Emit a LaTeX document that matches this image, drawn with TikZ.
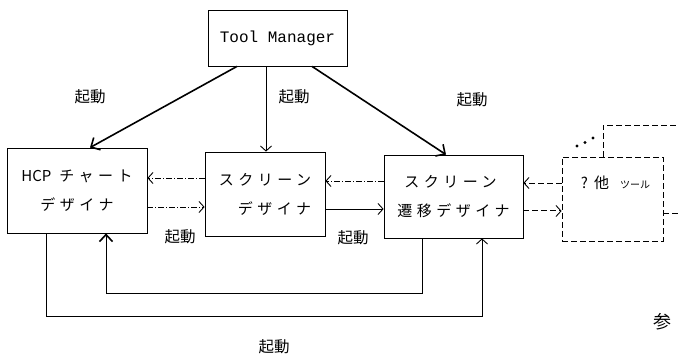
\documentclass[tikz,border=0pt]{standalone}
\usepackage{fontspec}
\newfontfamily\jp{Noto Sans CJK JP}
\newfontfamily\jpw[LetterSpace=30]{Noto Sans CJK JP}
\newfontfamily\monof{Liberation Mono}
\usetikzlibrary{arrows.meta,calc}
\begin{document}
\begin{tikzpicture}[x=1pt,y=-1pt,
  box/.style={draw,line width=0.8pt,inner sep=0pt,font=\jpw\fontsize{15}{29}\selectfont,align=center},
  lbl/.style={font=\jp\fontsize{15.5}{15.5}\selectfont},
  bigtip/.style={-{Straight Barb[length=7pt,width=14pt,line width=1.6pt]}, line width=1.6pt},
  thintip/.style={-{Straight Barb[length=5pt,width=11pt,line width=0.9pt]}, line width=0.8pt},
  dd/.style={dash pattern=on 6pt off 2pt on 1pt off 2pt},
  dsh/.style={dash pattern=on 6pt off 3pt},
]
\useasboundingbox (0,0) rectangle (678,358);

% nodes
\node[box,font=\monof\fontsize{16}{16}\selectfont,minimum width=139pt,minimum height=56pt] (tm) at (277.5,38) {Tool Manager};
\node[box,minimum width=140pt,minimum height=85pt] (hcp) at (77,190.5) {{\jp HCP}\hspace{8pt}チャート\\デザイナ};
\node[box,minimum width=120pt,minimum height=84pt,align=right] (sd) at (265,194) {スクリーン\\デザイナ};
\node[box,minimum width=139pt,minimum height=83pt] (st) at (453.5,196.5) {スクリーン\hspace*{6pt}\\遷移デザイナ};
\node[box,dsh,minimum width=101pt,minimum height=84pt,
      label={[yshift=16pt,xshift=3pt,font=\jp\fontsize{15}{15}\selectfont]center:{?\hspace{6pt}他\hspace{11pt}\fontsize{10}{10}\selectfont ツール}}] (ot) at (612.5,199) {};

% labels
\node[lbl] (l1) at (90,97) {起動};
\node[lbl] (l2) at (294,97) {起動};
\node[lbl] (l3) at (472,100) {起動};
\node[lbl] (l4) at (180,237) {起動};
\node[lbl] (l5) at (353,238) {起動};
\node[lbl] (l6) at (274,347) {起動};
\node[font=\jp\fontsize{18}{18}\selectfont] (san) at (662,322) {参};

% Tool Manager arrows
\draw[bigtip] ([xshift=-40.5pt]tm.south) -- ([xshift=13pt]hcp.north);
\draw[thintip,line width=1pt] ([xshift=1pt]sd.north |- tm.south) -- ([xshift=1pt]sd.north);
\draw[bigtip] ([xshift=34.5pt]tm.south) -- ([xshift=-7.5pt]st.north);

% horizontal arrows
\draw[thintip,dd] ([yshift=16pt]sd.west) -- ([yshift=16pt]sd.west -| hcp.east);
\draw[thintip,dd] ([yshift=-16.5pt]hcp.east) -- ([yshift=-16.5pt]hcp.east -| sd.west);
\draw[thintip,dd] ([yshift=15.5pt]st.west) -- ([yshift=15.5pt]st.west -| sd.east);
\draw[thintip] ([yshift=-15pt]sd.east) -- ([yshift=-15pt]sd.east -| st.west);
\draw[thintip,dsh] ([yshift=16pt]ot.west) -- ([yshift=16pt]ot.west -| st.east);
\draw[thintip,dsh,line width=1pt] ([yshift=-14.5pt]st.east) -- ([yshift=-14.5pt]st.east -| ot.west);

% bottom loops
\draw[line width=0.8pt,-{Straight Barb[length=7pt,width=13pt,line width=1.6pt]}] ([xshift=-31.5pt]st.south) -- ++(0,55) -| ([xshift=29pt]hcp.south);
\draw[thintip] ([xshift=-31pt]hcp.south) -- ++(0,83) -| ([xshift=28.5pt]st.south);

% behind box and dots
\coordinate (bk) at (603,125);
\coordinate (bkE) at (678,125);
\coordinate (otE) at (678,213);
\draw[dsh,line width=0.8pt] ([xshift=-9.5pt]ot.north) -- (bk) -- (bkE);
\draw[dsh,line width=0.8pt] ([yshift=-14pt]ot.east) -- (otE);
\fill (577,146) circle (1.6pt) (585,142.5) circle (1.6pt) (593,138) circle (1.6pt);
\end{tikzpicture}
\end{document}
